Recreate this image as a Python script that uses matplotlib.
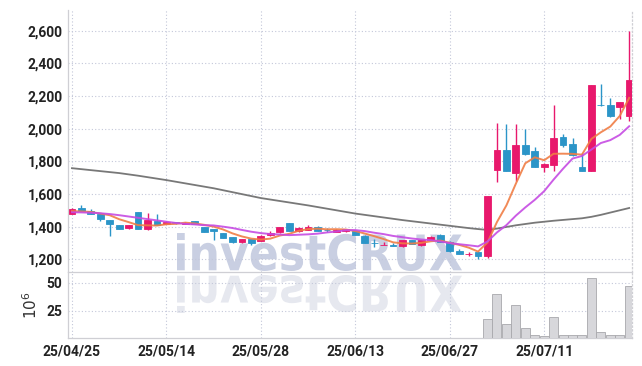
# candle chart with moving averages + volume, investCRUX style
import numpy as np
import pandas as pd
import matplotlib
matplotlib.use("Agg")
import matplotlib.pyplot as plt
from matplotlib.textpath import TextPath
from matplotlib.patches import PathPatch
from matplotlib.font_manager import FontProperties
from matplotlib.transforms import Affine2D

# trading days (yy/mm/dd)
dates = ['25/04/25', '25/04/28', '25/04/29', '25/04/30', '25/05/02', '25/05/07', '25/05/08', '25/05/09',
         '25/05/12', '25/05/13', '25/05/14', '25/05/15', '25/05/16', '25/05/19', '25/05/20', '25/05/21',
         '25/05/22', '25/05/23', '25/05/26', '25/05/27', '25/05/28', '25/05/29', '25/05/30', '25/06/02',
         '25/06/04', '25/06/05', '25/06/09', '25/06/10', '25/06/11', '25/06/12', '25/06/13', '25/06/16',
         '25/06/17', '25/06/18', '25/06/19', '25/06/20', '25/06/23', '25/06/24', '25/06/25', '25/06/26',
         '25/06/27', '25/06/30', '25/07/01', '25/07/02', '25/07/03', '25/07/04', '25/07/07', '25/07/08',
         '25/07/09', '25/07/10', '25/07/11', '25/07/14', '25/07/15', '25/07/16', '25/07/17', '25/07/18',
         '25/07/21', '25/07/22', '25/07/23', '25/07/24']

opens = [1480, 1512, 1495, 1478, 1440, 1410, 1390, 1488, 1387, 1435,
         1415, 1428, 1418, 1432, 1398, 1385, 1360, 1335, 1303, 1324,
         1312, 1348, 1365, 1420, 1375, 1380, 1400, 1382, 1368, 1372,
         1372, 1345, 1300, 1287, 1290, 1280, 1318, 1285, 1318, 1350,
         1308, 1250, 1230, 1246, 1217, 1745, 1872, 1727, 1898, 1862,
         1768, 1778, 1952, 1908, 1767, 1743, 2145, 2142, 2130, 2075]
closes = [1510, 1497, 1480, 1447, 1415, 1388, 1408, 1387, 1440, 1410,
          1428, 1420, 1424, 1415, 1368, 1373, 1333, 1303, 1322, 1300,
          1345, 1362, 1397, 1375, 1393, 1397, 1375, 1378, 1378, 1383,
          1350, 1300, 1297, 1290, 1282, 1318, 1295, 1318, 1338, 1305,
          1248, 1232, 1234, 1217, 1585, 1872, 1742, 1898, 1843, 1768,
          1783, 1940, 1900, 1838, 1743, 2266, 2142, 2075, 2163, 2297]
highs = [1515, 1532, 1505, 1480, 1442, 1412, 1410, 1490, 1483, 1475,
         1432, 1430, 1426, 1434, 1400, 1387, 1362, 1337, 1325, 1326,
         1348, 1372, 1399, 1422, 1400, 1410, 1402, 1390, 1385, 1386,
         1374, 1347, 1322, 1306, 1298, 1320, 1320, 1320, 1340, 1352,
         1310, 1262, 1245, 1248, 1588, 2035, 2030, 2030, 2000, 1890,
         1790, 2144, 1965, 1945, 1850, 2268, 2272, 2190, 2166, 2600]
lows = [1477, 1494, 1477, 1434, 1345, 1385, 1388, 1383, 1380, 1408,
        1413, 1418, 1416, 1413, 1366, 1318, 1331, 1301, 1300, 1288,
        1310, 1340, 1360, 1373, 1365, 1378, 1373, 1370, 1365, 1370,
        1348, 1298, 1278, 1286, 1280, 1278, 1293, 1283, 1316, 1303,
        1246, 1230, 1222, 1200, 1210, 1675, 1740, 1680, 1840, 1766,
        1737, 1738, 1890, 1835, 1741, 1741, 2140, 2073, 2060, 2050]

# volume in millions
volumes = [0.3, 0.3, 0.2, 0.3, 0.4, 0.3, 0.2, 0.4, 0.3, 0.2,
           0.2, 0.2, 0.2, 0.2, 0.3, 0.3, 0.2, 0.3, 0.2, 0.2,
           0.3, 0.2, 0.3, 0.3, 0.2, 0.2, 0.2, 0.2, 0.2, 0.2,
           0.2, 0.3, 0.2, 0.2, 0.2, 0.3, 0.2, 0.2, 0.2, 0.3,
           0.4, 0.3, 0.2, 0.4, 17.0, 39.7, 12.7, 29.7, 8.8, 2.5,
           1.5, 19.4, 2.5, 2.5, 2.5, 54.3, 5.5, 2.5, 2.5, 47.3]

# first values of the short averages (window not filled yet inside this range)
ma5_head = [1495, 1493, 1490, 1480]
ma10_head = [1488, 1487, 1485, 1482, 1477, 1470, 1462, 1454, 1446]

# 60 day average
ma60 = [1758, 1752, 1746, 1740, 1734, 1728, 1720, 1712, 1703, 1694,
        1685, 1675, 1665, 1655, 1645, 1635, 1623, 1611, 1599, 1587,
        1575, 1566, 1557, 1548, 1539, 1530, 1520, 1510, 1500, 1490,
        1480, 1472, 1464, 1456, 1448, 1440, 1433, 1426, 1419, 1412,
        1405, 1398, 1391, 1385, 1380, 1388, 1398, 1408, 1416, 1424,
        1430, 1436, 1441, 1446, 1451, 1460, 1472, 1486, 1500, 1514]

price_ticks = [1200, 1400, 1600, 1800, 2000, 2200, 2400, 2600]
vol_ticks = [25, 50]

RED = '#e8186c'
BLUE = '#2b95c8'
GRID = '#c3c7d9'

lab_font = FontProperties(family='Roboto', weight='bold', size=10)

df = pd.DataFrame({'o': opens, 'h': highs, 'l': lows, 'c': closes, 'v': volumes})
ma5 = df['c'].rolling(5).mean().values
ma5[:len(ma5_head)] = ma5_head
ma10 = df['c'].rolling(10).mean().values
ma10[:len(ma10_head)] = ma10_head
x = np.arange(len(df))

fig = plt.figure(figsize=(6.42, 3.66), dpi=100)
fig.patch.set_facecolor('white')

# background layer with the watermark (pixel coords)
bg = fig.add_axes([0, 0, 1, 1], zorder=0)
bg.set_xlim(0, 642)
bg.set_ylim(366, 0)
bg.axis('off')
tp = TextPath((0, 0), 'investCRUX', size=1,
              prop=FontProperties(family='DejaVu Sans', weight='bold'))
ext = tp.get_extents()
x0, x1 = 177, 462
sx = (x1 - x0) / ext.width
h = 38
t_main = Affine2D().translate(-ext.x0, -ext.y0).scale(sx, -h / ext.height).translate(x0, 271)
t_refl = Affine2D().translate(-ext.x0, -ext.y0).scale(sx, h / ext.height).translate(x0, 275)
bg.add_patch(PathPatch(t_main.transform_path(tp), facecolor='#c9cfe2', edgecolor='none'))
bg.add_patch(PathPatch(t_refl.transform_path(tp), facecolor='#e6e8ef', edgecolor='none'))

L, W = 68 / 642, 564 / 642
ax = fig.add_axes([L, 1 - 272 / 366, W, 262 / 366], zorder=1)
axv = fig.add_axes([L, 1 - 338 / 366, W, 66 / 366], zorder=1, sharex=ax)
for a in (ax, axv):
    a.set_facecolor('none')
    a.grid(True, color=GRID, linestyle=(0, (1, 2)), linewidth=0.8)
    a.set_axisbelow(True)
    for s in a.spines.values():
        s.set_color('#cfcfd4')
        s.set_linewidth(0.9)
    a.spines['top'].set_visible(False)
    a.spines['right'].set_linestyle((0, (1, 2)))
    a.tick_params(length=0, labelcolor='#222222')

# 60 day line behind candles
ax.plot(x, ma60, color='#787878', linewidth=1.3, zorder=2)

up = df['c'] >= df['o']
colors = np.where(up, RED, BLUE)
ax.vlines(x, df['l'], df['h'], colors=colors, linewidth=1.0, zorder=3)
body_lo = np.minimum(df['o'], df['c'])
body_h = np.maximum(np.abs(df['c'] - df['o']), 3)
ax.bar(x, body_h, bottom=body_lo, width=0.72, color=colors, edgecolor=colors,
       linewidth=0.6, zorder=4)

ax.plot(x, ma5, color='#f07d45', linewidth=1.4, alpha=0.9, zorder=5)
ax.plot(x, ma10, color='#c64be3', linewidth=1.4, alpha=0.9, zorder=5)

ax.set_xlim(-0.42, 59.3)
ax.set_ylim(1122, 2727)
ax.set_yticks(price_ticks)
ax.set_yticklabels([f'{p:,}' for p in price_ticks], fontproperties=lab_font)
ax.tick_params(axis='y', pad=4)
ax.tick_params(axis='x', labelbottom=False)

axv.bar(x, df['v'], width=0.95, color='#d7d7db', edgecolor='#a8a8ac', linewidth=0.6, zorder=3)
axv.set_ylim(0, 60)
axv.set_yticks(vol_ticks)
axv.set_yticklabels([str(v) for v in vol_ticks], fontproperties=lab_font)
axv.tick_params(axis='y', pad=4)
axv.set_ylabel('$10^6$', fontsize=11, color='#333333', labelpad=5)

tick_idx = list(range(0, len(dates), 10))
axv.set_xticks(tick_idx)
axv.set_xticklabels([dates[i] for i in tick_idx], fontproperties=lab_font)
axv.tick_params(axis='x', pad=5)

fig.savefig('out.png', dpi=100)
